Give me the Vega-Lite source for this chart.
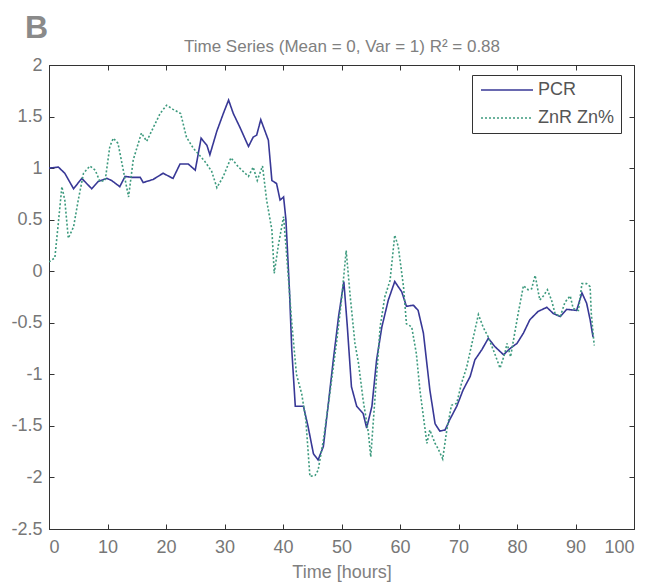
{
  "$schema": "https://vega.github.io/schema/vega-lite/v6.json",
  "autosize": "none",
  "width": 585,
  "height": 464,
  "padding": {"left": 49, "top": 65, "right": 19, "bottom": 55},
  "background": "white",
  "title": {"text": "B", "anchor": "start", "frame": "group", "fontSize": 32, "fontWeight": "bold", "color": "#8a8a8a", "font": "Liberation Sans", "dx": -24, "dy": 12, "offset": 5},
  "config": {
    "view": {"stroke": "#333", "strokeWidth": 1},
    "axis": {"labelFont": "Liberation Sans", "labelFontSize": 18, "labelColor": "#777", "titleFont": "Liberation Sans", "titleFontSize": 18, "titleColor": "#808080", "titleFontWeight": "normal", "domainColor": "#333", "tickColor": "#333", "grid": false}
  },
  "data": {"values": [
    {"t": 0, "v": 1.0, "s": "PCR"}, {"t": 1.6, "v": 1.01, "s": "PCR"}, {"t": 2.7, "v": 0.95, "s": "PCR"}, {"t": 4.2, "v": 0.8, "s": "PCR"}, {"t": 5.6, "v": 0.9, "s": "PCR"}, {"t": 7.3, "v": 0.8, "s": "PCR"}, {"t": 8.4, "v": 0.87, "s": "PCR"}, {"t": 9.9, "v": 0.9, "s": "PCR"}, {"t": 10.7, "v": 0.88, "s": "PCR"}, {"t": 12.1, "v": 0.82, "s": "PCR"}, {"t": 13, "v": 0.92, "s": "PCR"}, {"t": 14.1, "v": 0.91, "s": "PCR"}, {"t": 15.6, "v": 0.91, "s": "PCR"}, {"t": 16.1, "v": 0.86, "s": "PCR"}, {"t": 17.8, "v": 0.89, "s": "PCR"}, {"t": 19.5, "v": 0.95, "s": "PCR"}, {"t": 21.2, "v": 0.9, "s": "PCR"}, {"t": 22.4, "v": 1.04, "s": "PCR"}, {"t": 23.8, "v": 1.04, "s": "PCR"}, {"t": 25, "v": 0.98, "s": "PCR"}, {"t": 26, "v": 1.29, "s": "PCR"}, {"t": 27, "v": 1.22, "s": "PCR"}, {"t": 27.5, "v": 1.13, "s": "PCR"}, {"t": 28.7, "v": 1.36, "s": "PCR"}, {"t": 29.8, "v": 1.53, "s": "PCR"}, {"t": 30.7, "v": 1.66, "s": "PCR"}, {"t": 31.5, "v": 1.53, "s": "PCR"}, {"t": 32.6, "v": 1.4, "s": "PCR"}, {"t": 34.1, "v": 1.21, "s": "PCR"}, {"t": 34.9, "v": 1.3, "s": "PCR"}, {"t": 35.5, "v": 1.32, "s": "PCR"}, {"t": 36.2, "v": 1.47, "s": "PCR"}, {"t": 37.5, "v": 1.27, "s": "PCR"}, {"t": 38.1, "v": 0.88, "s": "PCR"}, {"t": 38.9, "v": 0.85, "s": "PCR"}, {"t": 39.5, "v": 0.69, "s": "PCR"}, {"t": 40.1, "v": 0.72, "s": "PCR"}, {"t": 40.5, "v": 0.5, "s": "PCR"}, {"t": 41.1, "v": -0.18, "s": "PCR"}, {"t": 41.5, "v": -0.76, "s": "PCR"}, {"t": 42.1, "v": -1.31, "s": "PCR"}, {"t": 43.5, "v": -1.31, "s": "PCR"}, {"t": 44.3, "v": -1.51, "s": "PCR"}, {"t": 45.2, "v": -1.77, "s": "PCR"}, {"t": 46, "v": -1.83, "s": "PCR"}, {"t": 46.9, "v": -1.7, "s": "PCR"}, {"t": 47.7, "v": -1.31, "s": "PCR"}, {"t": 48.6, "v": -0.86, "s": "PCR"}, {"t": 49.5, "v": -0.44, "s": "PCR"}, {"t": 50.4, "v": -0.1, "s": "PCR"}, {"t": 51, "v": -0.54, "s": "PCR"}, {"t": 51.7, "v": -1.12, "s": "PCR"}, {"t": 52.6, "v": -1.31, "s": "PCR"}, {"t": 53.7, "v": -1.38, "s": "PCR"}, {"t": 54.3, "v": -1.52, "s": "PCR"}, {"t": 55.2, "v": -1.31, "s": "PCR"}, {"t": 56, "v": -0.86, "s": "PCR"}, {"t": 56.9, "v": -0.54, "s": "PCR"}, {"t": 58, "v": -0.28, "s": "PCR"}, {"t": 59.1, "v": -0.1, "s": "PCR"}, {"t": 60.3, "v": -0.2, "s": "PCR"}, {"t": 61.1, "v": -0.34, "s": "PCR"}, {"t": 62.3, "v": -0.33, "s": "PCR"}, {"t": 63.1, "v": -0.38, "s": "PCR"}, {"t": 64, "v": -0.6, "s": "PCR"}, {"t": 65.1, "v": -1.15, "s": "PCR"}, {"t": 66, "v": -1.48, "s": "PCR"}, {"t": 66.8, "v": -1.55, "s": "PCR"}, {"t": 67.7, "v": -1.54, "s": "PCR"}, {"t": 68.5, "v": -1.44, "s": "PCR"}, {"t": 69.7, "v": -1.31, "s": "PCR"}, {"t": 70.8, "v": -1.15, "s": "PCR"}, {"t": 72, "v": -1.02, "s": "PCR"}, {"t": 72.8, "v": -0.86, "s": "PCR"}, {"t": 74, "v": -0.76, "s": "PCR"}, {"t": 75.1, "v": -0.65, "s": "PCR"}, {"t": 76.2, "v": -0.73, "s": "PCR"}, {"t": 77.7, "v": -0.81, "s": "PCR"}, {"t": 78.8, "v": -0.75, "s": "PCR"}, {"t": 80, "v": -0.7, "s": "PCR"}, {"t": 81.1, "v": -0.6, "s": "PCR"}, {"t": 82.2, "v": -0.47, "s": "PCR"}, {"t": 83.6, "v": -0.39, "s": "PCR"}, {"t": 85.1, "v": -0.35, "s": "PCR"}, {"t": 86.2, "v": -0.41, "s": "PCR"}, {"t": 87.4, "v": -0.44, "s": "PCR"}, {"t": 88.5, "v": -0.37, "s": "PCR"}, {"t": 90.2, "v": -0.38, "s": "PCR"}, {"t": 91.1, "v": -0.21, "s": "PCR"}, {"t": 91.9, "v": -0.31, "s": "PCR"}, {"t": 92.5, "v": -0.47, "s": "PCR"}, {"t": 93, "v": -0.64, "s": "PCR"},
    {"t": 0, "v": 0.09, "s": "ZnR Zn%"}, {"t": 1, "v": 0.13, "s": "ZnR Zn%"}, {"t": 1.6, "v": 0.47, "s": "ZnR Zn%"}, {"t": 2.2, "v": 0.82, "s": "ZnR Zn%"}, {"t": 2.7, "v": 0.69, "s": "ZnR Zn%"}, {"t": 3.3, "v": 0.32, "s": "ZnR Zn%"}, {"t": 4.2, "v": 0.43, "s": "ZnR Zn%"}, {"t": 5, "v": 0.69, "s": "ZnR Zn%"}, {"t": 5.9, "v": 0.95, "s": "ZnR Zn%"}, {"t": 7, "v": 1.02, "s": "ZnR Zn%"}, {"t": 7.9, "v": 0.98, "s": "ZnR Zn%"}, {"t": 8.7, "v": 0.87, "s": "ZnR Zn%"}, {"t": 9.6, "v": 0.88, "s": "ZnR Zn%"}, {"t": 10.4, "v": 1.21, "s": "ZnR Zn%"}, {"t": 11, "v": 1.29, "s": "ZnR Zn%"}, {"t": 11.8, "v": 1.24, "s": "ZnR Zn%"}, {"t": 12.7, "v": 0.98, "s": "ZnR Zn%"}, {"t": 13.6, "v": 0.72, "s": "ZnR Zn%"}, {"t": 14.4, "v": 1.08, "s": "ZnR Zn%"}, {"t": 15.8, "v": 1.34, "s": "ZnR Zn%"}, {"t": 16.7, "v": 1.26, "s": "ZnR Zn%"}, {"t": 17.8, "v": 1.39, "s": "ZnR Zn%"}, {"t": 19, "v": 1.53, "s": "ZnR Zn%"}, {"t": 20.1, "v": 1.61, "s": "ZnR Zn%"}, {"t": 21.2, "v": 1.57, "s": "ZnR Zn%"}, {"t": 22.5, "v": 1.53, "s": "ZnR Zn%"}, {"t": 23.5, "v": 1.3, "s": "ZnR Zn%"}, {"t": 24.7, "v": 1.19, "s": "ZnR Zn%"}, {"t": 25.5, "v": 1.14, "s": "ZnR Zn%"}, {"t": 26.7, "v": 1.06, "s": "ZnR Zn%"}, {"t": 27.8, "v": 0.97, "s": "ZnR Zn%"}, {"t": 28.7, "v": 0.81, "s": "ZnR Zn%"}, {"t": 29.8, "v": 0.92, "s": "ZnR Zn%"}, {"t": 31.1, "v": 1.1, "s": "ZnR Zn%"}, {"t": 32.4, "v": 1.01, "s": "ZnR Zn%"}, {"t": 34.1, "v": 0.92, "s": "ZnR Zn%"}, {"t": 34.9, "v": 1.01, "s": "ZnR Zn%"}, {"t": 35.6, "v": 0.88, "s": "ZnR Zn%"}, {"t": 36.5, "v": 1.02, "s": "ZnR Zn%"}, {"t": 37.2, "v": 0.69, "s": "ZnR Zn%"}, {"t": 38.1, "v": 0.4, "s": "ZnR Zn%"}, {"t": 38.5, "v": -0.02, "s": "ZnR Zn%"}, {"t": 39.2, "v": 0.25, "s": "ZnR Zn%"}, {"t": 40.1, "v": 0.53, "s": "ZnR Zn%"}, {"t": 40.7, "v": 0.1, "s": "ZnR Zn%"}, {"t": 41.5, "v": -0.5, "s": "ZnR Zn%"}, {"t": 42.3, "v": -1.0, "s": "ZnR Zn%"}, {"t": 43.2, "v": -1.19, "s": "ZnR Zn%"}, {"t": 43.9, "v": -1.44, "s": "ZnR Zn%"}, {"t": 44.6, "v": -1.99, "s": "ZnR Zn%"}, {"t": 45.5, "v": -1.98, "s": "ZnR Zn%"}, {"t": 46, "v": -1.93, "s": "ZnR Zn%"}, {"t": 46.9, "v": -1.64, "s": "ZnR Zn%"}, {"t": 48, "v": -1.19, "s": "ZnR Zn%"}, {"t": 49.2, "v": -0.67, "s": "ZnR Zn%"}, {"t": 50, "v": -0.28, "s": "ZnR Zn%"}, {"t": 50.8, "v": 0.2, "s": "ZnR Zn%"}, {"t": 51.5, "v": -0.25, "s": "ZnR Zn%"}, {"t": 52.3, "v": -0.7, "s": "ZnR Zn%"}, {"t": 52.9, "v": -0.89, "s": "ZnR Zn%"}, {"t": 53.7, "v": -1.25, "s": "ZnR Zn%"}, {"t": 54.6, "v": -1.57, "s": "ZnR Zn%"}, {"t": 55, "v": -1.8, "s": "ZnR Zn%"}, {"t": 55.7, "v": -1.25, "s": "ZnR Zn%"}, {"t": 56.6, "v": -0.54, "s": "ZnR Zn%"}, {"t": 57.4, "v": -0.25, "s": "ZnR Zn%"}, {"t": 58.3, "v": -0.09, "s": "ZnR Zn%"}, {"t": 59.1, "v": 0.35, "s": "ZnR Zn%"}, {"t": 59.7, "v": 0.24, "s": "ZnR Zn%"}, {"t": 60.6, "v": -0.15, "s": "ZnR Zn%"}, {"t": 61.1, "v": -0.51, "s": "ZnR Zn%"}, {"t": 62, "v": -0.54, "s": "ZnR Zn%"}, {"t": 62.8, "v": -0.8, "s": "ZnR Zn%"}, {"t": 63.4, "v": -1.15, "s": "ZnR Zn%"}, {"t": 64.6, "v": -1.67, "s": "ZnR Zn%"}, {"t": 65.1, "v": -1.54, "s": "ZnR Zn%"}, {"t": 66, "v": -1.67, "s": "ZnR Zn%"}, {"t": 66.5, "v": -1.72, "s": "ZnR Zn%"}, {"t": 67.3, "v": -1.82, "s": "ZnR Zn%"}, {"t": 68, "v": -1.54, "s": "ZnR Zn%"}, {"t": 68.8, "v": -1.3, "s": "ZnR Zn%"}, {"t": 69.7, "v": -1.28, "s": "ZnR Zn%"}, {"t": 70.5, "v": -1.09, "s": "ZnR Zn%"}, {"t": 71.4, "v": -0.93, "s": "ZnR Zn%"}, {"t": 72.3, "v": -0.7, "s": "ZnR Zn%"}, {"t": 73.4, "v": -0.42, "s": "ZnR Zn%"}, {"t": 74.2, "v": -0.54, "s": "ZnR Zn%"}, {"t": 75.1, "v": -0.64, "s": "ZnR Zn%"}, {"t": 76.2, "v": -0.8, "s": "ZnR Zn%"}, {"t": 77.1, "v": -0.94, "s": "ZnR Zn%"}, {"t": 77.9, "v": -0.8, "s": "ZnR Zn%"}, {"t": 78.3, "v": -0.7, "s": "ZnR Zn%"}, {"t": 78.9, "v": -0.83, "s": "ZnR Zn%"}, {"t": 79.7, "v": -0.57, "s": "ZnR Zn%"}, {"t": 80.2, "v": -0.41, "s": "ZnR Zn%"}, {"t": 81.1, "v": -0.14, "s": "ZnR Zn%"}, {"t": 81.9, "v": -0.18, "s": "ZnR Zn%"}, {"t": 82.5, "v": -0.17, "s": "ZnR Zn%"}, {"t": 83.1, "v": -0.04, "s": "ZnR Zn%"}, {"t": 83.9, "v": -0.28, "s": "ZnR Zn%"}, {"t": 84.5, "v": -0.24, "s": "ZnR Zn%"}, {"t": 85.2, "v": -0.18, "s": "ZnR Zn%"}, {"t": 85.9, "v": -0.28, "s": "ZnR Zn%"}, {"t": 86.5, "v": -0.41, "s": "ZnR Zn%"}, {"t": 87.4, "v": -0.44, "s": "ZnR Zn%"}, {"t": 88.2, "v": -0.3, "s": "ZnR Zn%"}, {"t": 89.1, "v": -0.24, "s": "ZnR Zn%"}, {"t": 89.6, "v": -0.36, "s": "ZnR Zn%"}, {"t": 90.5, "v": -0.38, "s": "ZnR Zn%"}, {"t": 91.1, "v": -0.12, "s": "ZnR Zn%"}, {"t": 91.9, "v": -0.12, "s": "ZnR Zn%"}, {"t": 92.5, "v": -0.15, "s": "ZnR Zn%"}, {"t": 92.7, "v": -0.41, "s": "ZnR Zn%"}, {"t": 93.2, "v": -0.72, "s": "ZnR Zn%"}
  ]},
  "layer": [
    {
      "mark": {"type": "line", "strokeWidth": 1.6, "clip": true},
      "encoding": {
        "x": {"field": "t", "type": "quantitative", "scale": {"domain": [0, 100], "nice": false, "zero": false},
              "axis": {"orient": "bottom", "title": "Time [hours]", "values": [0,10,20,30,40,50,60,70,80,90,100], "tickSize": -5, "labelPadding": 14, "titlePadding": 7}},
        "y": {"field": "v", "type": "quantitative", "scale": {"domain": [-2.5, 2], "nice": false, "zero": false},
              "axis": {"orient": "left", "title": null, "values": [-2.5,-2,-1.5,-1,-0.5,0,0.5,1,1.5,2], "tickSize": -5, "labelPadding": 12, "labelExpr": "'' + datum.value"}},
        "color": {"field": "s", "type": "nominal", "scale": {"domain": ["PCR", "ZnR Zn%"], "range": ["#383896", "#3d9a7e"]},
                  "legend": {"title": null, "orient": "none", "legendX": 423, "legendY": 10, "symbolType": "M-4,0L4,0", "symbolSize": 169, "symbolStrokeWidth": 1.3, "labelFont": "Liberation Sans", "labelFontSize": 18, "labelColor": "#555", "strokeColor": "#333", "fillColor": "white", "padding": 6, "rowPadding": 10, "labelOffset": 22, "symbolOffset": 20}},
        "strokeDash": {"field": "s", "type": "nominal", "scale": {"domain": ["PCR", "ZnR Zn%"], "range": [[1, 0], [2, 2]]}}
      }
    },
    {
      "mark": {"type": "line", "opacity": 0},
      "encoding": {
        "x": {"field": "t", "type": "quantitative",
              "axis": {"orient": "top", "title": "Time Series (Mean = 0, Var = 1) R² = 0.88", "labels": false, "domain": false, "values": [0,10,20,30,40,50,60,70,80,90,100], "tickSize": -5, "titlePadding": 9, "titleFontSize": 17}},
        "y": {"field": "v", "type": "quantitative",
              "axis": {"orient": "right", "title": null, "labels": false, "domain": false, "values": [-2.5,-2,-1.5,-1,-0.5,0,0.5,1,1.5,2], "tickSize": -5}},
        "detail": {"field": "s", "type": "nominal"}
      }
    }
  ],
  "resolve": {"axis": {"x": "independent", "y": "independent"}}
}
